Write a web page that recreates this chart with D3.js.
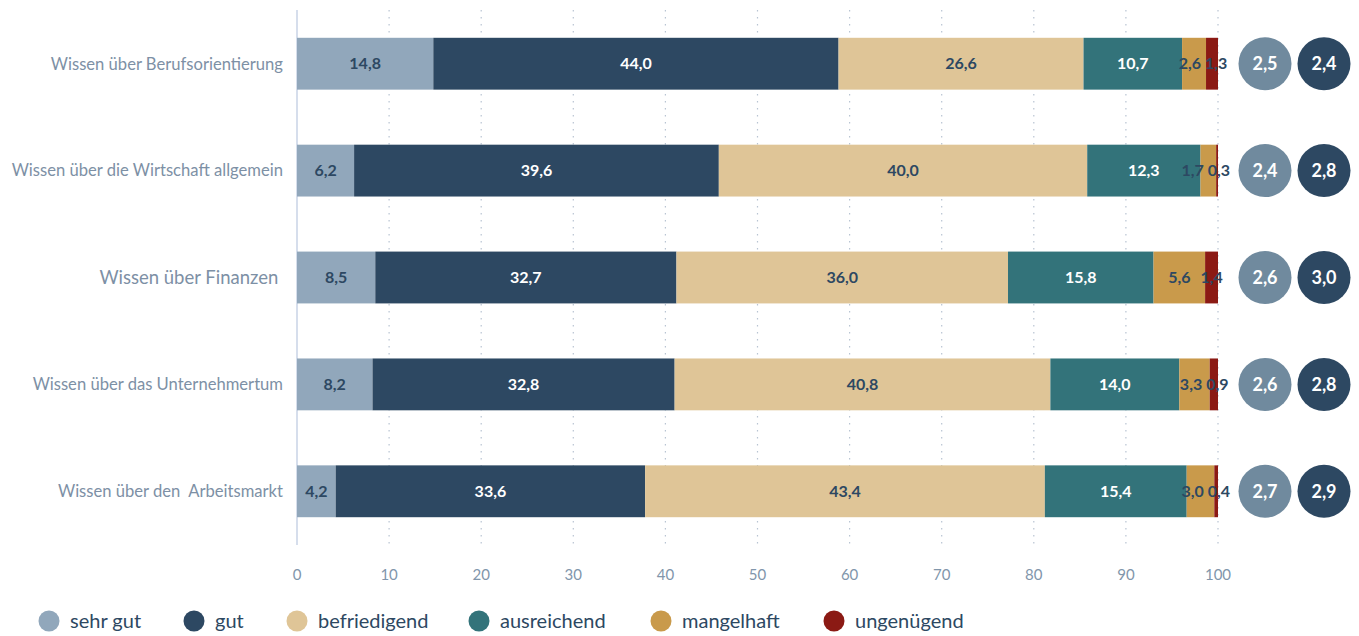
<!DOCTYPE html>
<html>
<head>
<meta charset="utf-8">
<script src="https://cdn.jsdelivr.net/npm/d3@7"></script>
<style>
  body { margin: 0; background: #fff; }
  svg { font-family: "Source Sans Pro", Lato, "Open Sans", sans-serif; }
</style>
</head>
<body>
<svg id="chart" width="1359" height="636"></svg>
<script>
// data
const categories = [
  'Wissen über Berufsorientierung',
  'Wissen über die Wirtschaft allgemein',
  'Wissen über Finanzen ',
  'Wissen über das Unternehmertum',
  'Wissen über den  Arbeitsmarkt'
];
const grades = ['sehr gut', 'gut', 'befriedigend', 'ausreichend', 'mangelhaft', 'ungenügend'];
const sehrGut = [14.8, 6.2, 8.5, 8.2, 4.2];
const gut = [44.0, 39.6, 32.7, 32.8, 33.6];
const befriedigend = [26.6, 40.0, 36.0, 40.8, 43.4];
const ausreichend = [10.7, 12.3, 15.8, 14.0, 15.4];
const mangelhaft = [2.6, 1.7, 5.6, 3.3, 3.0];
const ungenuegend = [1.3, 0.3, 1.4, 0.9, 0.4];
const avgLight = [2.5, 2.4, 2.6, 2.6, 2.7];
const avgDark = [2.4, 2.8, 3.0, 2.8, 2.9];
const xTicks = [0, 10, 20, 30, 40, 50, 60, 70, 80, 90, 100];

const colors = ['#91a7bb', '#2d4862', '#dfc597', '#33737a', '#c99a4b', '#8b1a14'];
const labelColors = ['#2d4862', '#ffffff', '#2d4862', '#ffffff', '#2d4862', '#2d4862'];
const series = [sehrGut, gut, befriedigend, ausreichend, mangelhaft, ungenuegend];

const fmt = v => v.toFixed(1).replace('.', ',');

const svg = d3.select('#chart');
const x = d3.scaleLinear().domain([0, 100]).range([297, 1218]);
const y = d3.scaleBand().domain(categories).range([10, 545]).paddingInner(0.515).paddingOuter(0.26);

// dotted grid
svg.append('g').selectAll('line')
  .data(xTicks.filter(d => d > 0))
  .enter().append('line')
  .attr('x1', d => x(d)).attr('x2', d => x(d))
  .attr('y1', 10).attr('y2', 545)
  .attr('stroke', '#b8c4d2')
  .attr('stroke-width', 1.2)
  .attr('stroke-dasharray', '1.5,5.5');

// axis line
svg.append('line')
  .attr('x1', x(0)).attr('x2', x(0))
  .attr('y1', 10).attr('y2', 545)
  .attr('stroke', '#c9d3e6').attr('stroke-width', 1.5);

// tick labels
svg.append('g').selectAll('text')
  .data(xTicks)
  .enter().append('text')
  .attr('x', d => x(d)).attr('y', 580)
  .attr('text-anchor', 'middle')
  .attr('fill', '#8196ab')
  .style('font-size', '15px')
  .text(d => d);

// stacked bars
const rows = categories.map((c, i) => {
  let acc = 0;
  return series.map((s, k) => {
    const seg = { cat: c, k: k, v: s[i], x0: acc, x1: acc + s[i] };
    acc += s[i];
    return seg;
  });
});
const segs = rows.flat();

svg.append('g').selectAll('rect')
  .data(segs)
  .enter().append('rect')
  .attr('x', d => x(d.x0))
  .attr('y', d => y(d.cat))
  .attr('width', d => Math.max(0, Math.min(x(d.x1), x(100)) - x(d.x0)))
  .attr('height', y.bandwidth())
  .attr('fill', d => colors[d.k]);

const labels = svg.append('g').selectAll('text')
  .data(segs)
  .enter().append('text')
  .attr('x', d => x((d.x0 + d.x1) / 2))
  .attr('y', d => y(d.cat) + y.bandwidth() / 2)
  .attr('dy', '0.35em')
  .attr('text-anchor', 'middle')
  .attr('fill', d => labelColors[d.k])
  .style('font-size', '16px')
  .style('font-weight', 'bold')
  .text(d => fmt(d.v));

// push the two small end labels apart, like the original does
labels.each(function(d) { d.w = this.getComputedTextLength(); d.cx = x((d.x0 + d.x1) / 2); });
rows.forEach(row => {
  const a = row[4], b = row[5];
  const need = (a.w + b.w) / 2 + 4;
  const gap = b.cx - a.cx;
  if (gap < need) {
    const shift = (need - gap) / 2;
    b.cx = Math.min(b.cx + shift, 1219);
    a.cx = b.cx - need;
  }
});
labels.attr('x', d => d.cx);

// category labels
svg.append('g').selectAll('text')
  .data(categories)
  .enter().append('text')
  .attr('x', 283)
  .attr('y', d => y(d) + y.bandwidth() / 2)
  .attr('dy', '0.35em')
  .attr('text-anchor', 'end')
  .attr('fill', '#7d90a5')
  .style('font-size', (d, i) => i === 2 ? '18.5px' : '16.6px')
  .style('white-space', 'pre')
  .attr('xml:space', 'preserve')
  .text(d => d);

// average circles
const circ = [
  { vals: avgLight, cx: 1265, fill: '#708a9e' },
  { vals: avgDark, cx: 1324, fill: '#2d4862' }
];
circ.forEach(c => {
  const g = svg.append('g');
  g.selectAll('circle')
    .data(categories)
    .enter().append('circle')
    .attr('cx', c.cx)
    .attr('cy', d => y(d) + y.bandwidth() / 2)
    .attr('r', 26.5)
    .attr('fill', c.fill);
  g.selectAll('text')
    .data(categories)
    .enter().append('text')
    .attr('x', c.cx)
    .attr('y', d => y(d) + y.bandwidth() / 2)
    .attr('dy', '0.35em')
    .attr('text-anchor', 'middle')
    .attr('fill', '#fff')
    .style('font-size', '18px')
    .style('font-weight', 'bold')
    .text((d, i) => fmt(c.vals[i]));
});

// legend
const legendX = [49, 194, 297, 479, 661, 834];
const lg = svg.append('g').selectAll('g')
  .data(grades)
  .enter().append('g')
  .attr('transform', (d, i) => `translate(${legendX[i]},621)`);
lg.append('circle').attr('r', 10.5).attr('fill', (d, i) => colors[i]);
lg.append('text')
  .attr('x', 21).attr('dy', '0.35em')
  .attr('fill', '#2d4862')
  .style('font-size', '20px')
  .text(d => d);
</script>
</body>
</html>
